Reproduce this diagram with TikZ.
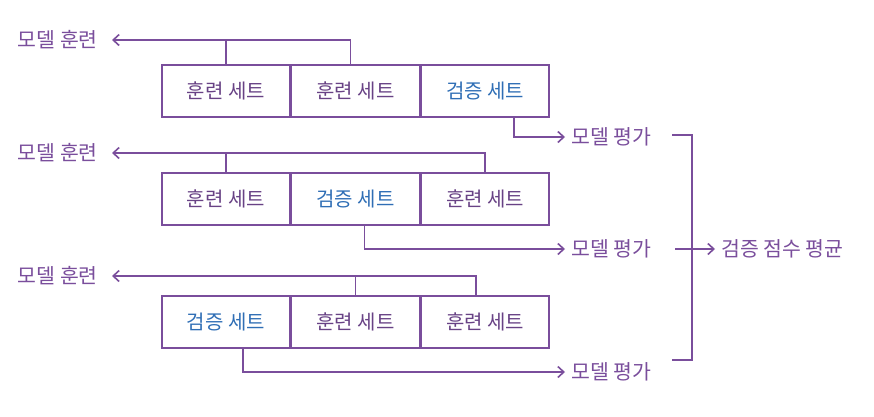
\documentclass[tikz,border=0pt]{standalone}
\usepackage{fontspec}
\setmainfont{Noto Sans CJK KR}
\usetikzlibrary{arrows.meta,positioning}
\definecolor{vio}{HTML}{7A4E9C}
\definecolor{valblue}{HTML}{2F6EB5}
\tikzset{
  setbox/.style={draw=vio, line width=1.6pt, minimum width=128pt, minimum height=52pt, inner sep=0pt, text=vio!85!black, font=\fontsize{20}{22}\selectfont},
  valbox/.style={setbox, text=valblue},
  lbl/.style={text=vio, font=\fontsize{20.5}{22}\selectfont, inner ysep=2pt, inner xsep=6pt},
  lbll/.style={lbl, inner xsep=14pt},
  wire/.style={draw=vio, line width=1.6pt},
  arr/.style={wire, -{Straight Barb[length=6pt,width=11pt,line width=1.6pt]}}
}

\begin{document}
\begin{tikzpicture}[x=1pt,y=1pt,yscale=-1,xscale=1]
\useasboundingbox (0,0) rectangle (874,416);

% Row 1
\node [setbox] (a1) at (226,91) {훈련 세트};
\node [setbox, right=0pt of a1] (a2) {훈련 세트};
\node [valbox, right=0pt of a2] (a3) {검증 세트};
% Row 2
\node [setbox] (b1) at (226,199) {훈련 세트};
\node [valbox, right=0pt of b1] (b2) {검증 세트};
\node [setbox, right=0pt of b2] (b3) {훈련 세트};
% Row 3
\node [valbox] (c1) at (226,322) {검증 세트};
\node [setbox, right=0pt of c1] (c2) {훈련 세트};
\node [setbox, right=0pt of c2] (c3) {훈련 세트};

% Text Node
\node [lbll, anchor=east] (ta) at (112,40) {모델 훈련};
\node [lbll, anchor=east] (tb) at (112,153) {모델 훈련};
\node [lbll, anchor=east] (tc) at (112,276) {모델 훈련};
\node [lbl, anchor=west] (ea) at (565,137) {모델 평가};
\node [lbl, anchor=west] (eb) at (565,249) {모델 평가};
\node [lbl, anchor=west] (ec) at (565,372) {모델 평가};
\node [lbl, anchor=west] (avg) at (715,249) {검증 점수 평균};

% training sets to model training
\draw [arr] ([xshift=-5pt]a2.north) |- (ta.east);
\draw [wire] (a1.north) -- (a1.north |- ta.east);
\draw [arr] (b3.north) |- (tb.east);
\draw [wire] (b1.north) -- (b1.north |- tb.east);
\draw [arr] ([xshift=-9pt]c3.north) |- (tc.east);
\draw [wire] (c2.north) -- (c2.north |- tc.east);

% validation set to model evaluation
\draw [arr] ([xshift=29pt]a3.south) |- (ea.west);
\draw [arr] ([xshift=9pt]b2.south) |- (eb.west);
\draw [arr] ([xshift=17pt]c1.south) |- (ec.west);

% bracket
\coordinate (k1) at (672,135);
\coordinate (k2) at (672,360);
\draw [wire] (k1) -- (692,135) -- (692,360) -- (k2);
\draw [arr] (675,249) -- (avg.west);

\end{tikzpicture}
\end{document}
